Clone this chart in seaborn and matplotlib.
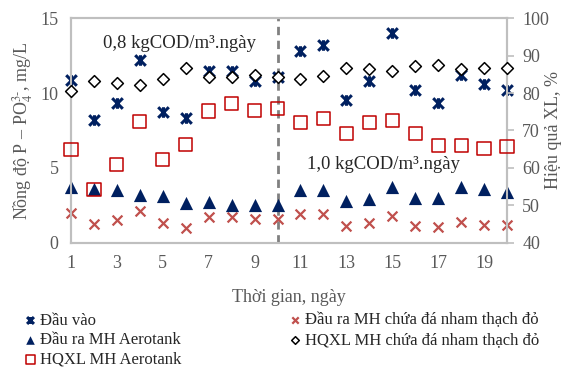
import matplotlib.pyplot as plt
from matplotlib.path import Path
import seaborn as sns

# ======== data ============================================
days = list(range(1, 21))
x_ticks = [1, 3, 5, 7, 9, 11, 13, 15, 17, 19]

dau_vao = [10.9, 8.2, 9.3, 12.2, 8.7, 8.3, 11.5, 11.5, 10.8, 11.1,
           12.8, 13.2, 9.5, 10.8, 14.0, 10.2, 9.3, 11.2, 10.6, 10.2]
dau_ra_da = [2.0, 1.25, 1.5, 2.1, 1.3, 1.0, 1.75, 1.7, 1.6, 1.6,
             1.9, 1.9, 1.15, 1.35, 1.8, 1.15, 1.05, 1.4, 1.2, 1.2]
dau_ra_aerotank = [3.7, 3.6, 3.5, 3.2, 3.15, 2.65, 2.75, 2.5, 2.55, 2.5,
                   3.5, 3.5, 2.8, 2.9, 3.7, 3.0, 3.0, 3.7, 3.6, 3.4]
hqxl_da = [80.6, 83.3, 82.6, 82.1, 83.7, 86.6, 84.2, 84.4, 84.8, 84.4,
           83.7, 84.5, 86.6, 86.3, 85.9, 87.2, 87.6, 86.3, 86.6, 86.8]
hqxl_aerotank = [65.0, 54.3, 61.0, 72.3, 62.3, 66.3, 75.2, 77.1, 75.3, 75.9,
                 72.1, 73.3, 69.1, 72.1, 72.6, 69.2, 65.9, 65.9, 65.1, 65.7]

load_labels = ["0,8 kgCOD/m³.ngày", "1,0 kgCOD/m³.ngày"]
switch_day = 10

# ======== style ============================================
sns.set_style("white")
plt.rcParams["font.family"] = ["Liberation Serif", "DejaVu Serif"]
plt.rcParams["mathtext.fontset"] = "stix"

grey_txt = "#595959"
grey_line = "#BFBFBF"
navy = "#002060"
red_dark = "#C00000"
red_soft = "#C0504D"

# excel-like "star" marker: an X with a vertical bar
star = Path([(-1, -1), (1, 1), (-1, 1), (1, -1), (0, -1), (0, 1)],
            [Path.MOVETO, Path.LINETO, Path.MOVETO, Path.LINETO, Path.MOVETO, Path.LINETO])

fig = plt.figure(figsize=(5.66, 3.69), dpi=100)
ax = fig.add_axes([0.1254, 0.3415, 0.7704, 0.6097])
ax2 = ax.twinx()

# left axis: concentrations
sns.scatterplot(x=days, y=dau_vao, ax=ax, marker=star, s=58,
                color=navy, edgecolor=navy, linewidth=2.2, label="Đầu vào",
                zorder=4, clip_on=False)
sns.scatterplot(x=days, y=dau_ra_da, ax=ax, marker="x", s=50,
                color=red_soft, linewidth=1.6,
                label="Đầu ra MH chứa đá nham thạch đỏ", zorder=4, clip_on=False)
sns.scatterplot(x=days, y=dau_ra_aerotank, ax=ax, marker="^", s=90,
                color=navy, edgecolor=navy, linewidth=0,
                label="Đầu ra MH Aerotank", zorder=4, clip_on=False)

# right axis: efficiency
sns.scatterplot(x=days, y=hqxl_da, ax=ax2, marker="D", s=36,
                color="black", facecolor="white", edgecolor="black",
                linewidth=1.1, label="HQXL MH chứa đá nham thạch đỏ", zorder=4,
                clip_on=False)
sns.scatterplot(x=days, y=hqxl_aerotank, ax=ax2, marker="s", s=90,
                color=red_dark, facecolor="none", edgecolor=red_dark,
                linewidth=1.1, label="HQXL MH Aerotank", zorder=4, clip_on=False)

for a in (ax, ax2):
    if a.get_legend() is not None:
        a.get_legend().remove()

ax.axvline(switch_day, color="#808080", linestyle=(0, (3, 2)), linewidth=2, zorder=3)

ax.set_xlim(1, 20)
ax.set_ylim(0, 15)
ax2.set_ylim(40, 100)
ax.set_xticks(x_ticks)
ax.set_yticks([0, 5, 10, 15])
ax2.set_yticks(range(40, 101, 10))

ax.tick_params(axis="both", length=0, labelsize=13, labelcolor=grey_txt, pad=9)
ax2.tick_params(axis="y", length=5, width=1.2, color=grey_line,
                labelsize=13, labelcolor=grey_txt, pad=6)

for a in (ax, ax2):
    for sp in a.spines.values():
        sp.set_color(grey_line)
        sp.set_linewidth(1.5)

ax.set_xlabel("Thời gian, ngày", fontsize=13, color=grey_txt, labelpad=12)
ax.set_ylabel(r"Nồng độ P – PO$_4^{3\text{-}}$, mg/L", fontsize=13,
              color=grey_txt, labelpad=4)
ax2.set_ylabel("Hiệu quả XL, %", fontsize=13, color=grey_txt, labelpad=-3)

ax.text(5.75, 13.3, load_labels[0], fontsize=13.5, ha="center", va="center")
ax.text(14.6, 5.2, load_labels[1], fontsize=13.5, ha="center", va="center")

# legend below the chart, two columns
h1, l1 = ax.get_legend_handles_labels()
h2, l2 = ax2.get_legend_handles_labels()
handles = dict(zip(l1 + l2, h1 + h2))
col_left = ["Đầu vào", "Đầu ra MH Aerotank", "HQXL MH Aerotank"]
col_right = ["Đầu ra MH chứa đá nham thạch đỏ", "HQXL MH chứa đá nham thạch đỏ"]

leg_kw = dict(frameon=False, fontsize=12, handlelength=0.6, handletextpad=0.3,
              labelspacing=0.22, borderpad=0, borderaxespad=0, markerscale=0.65)
fig.legend([handles[k] for k in col_left], col_left, loc="upper left",
           bbox_to_anchor=(0.045, 0.153), **leg_kw)
fig.legend([handles[k] for k in col_right], col_right, loc="upper left",
           bbox_to_anchor=(0.512, 0.153), **leg_kw)

fig.savefig("out.png", dpi=100)
plt.close()
